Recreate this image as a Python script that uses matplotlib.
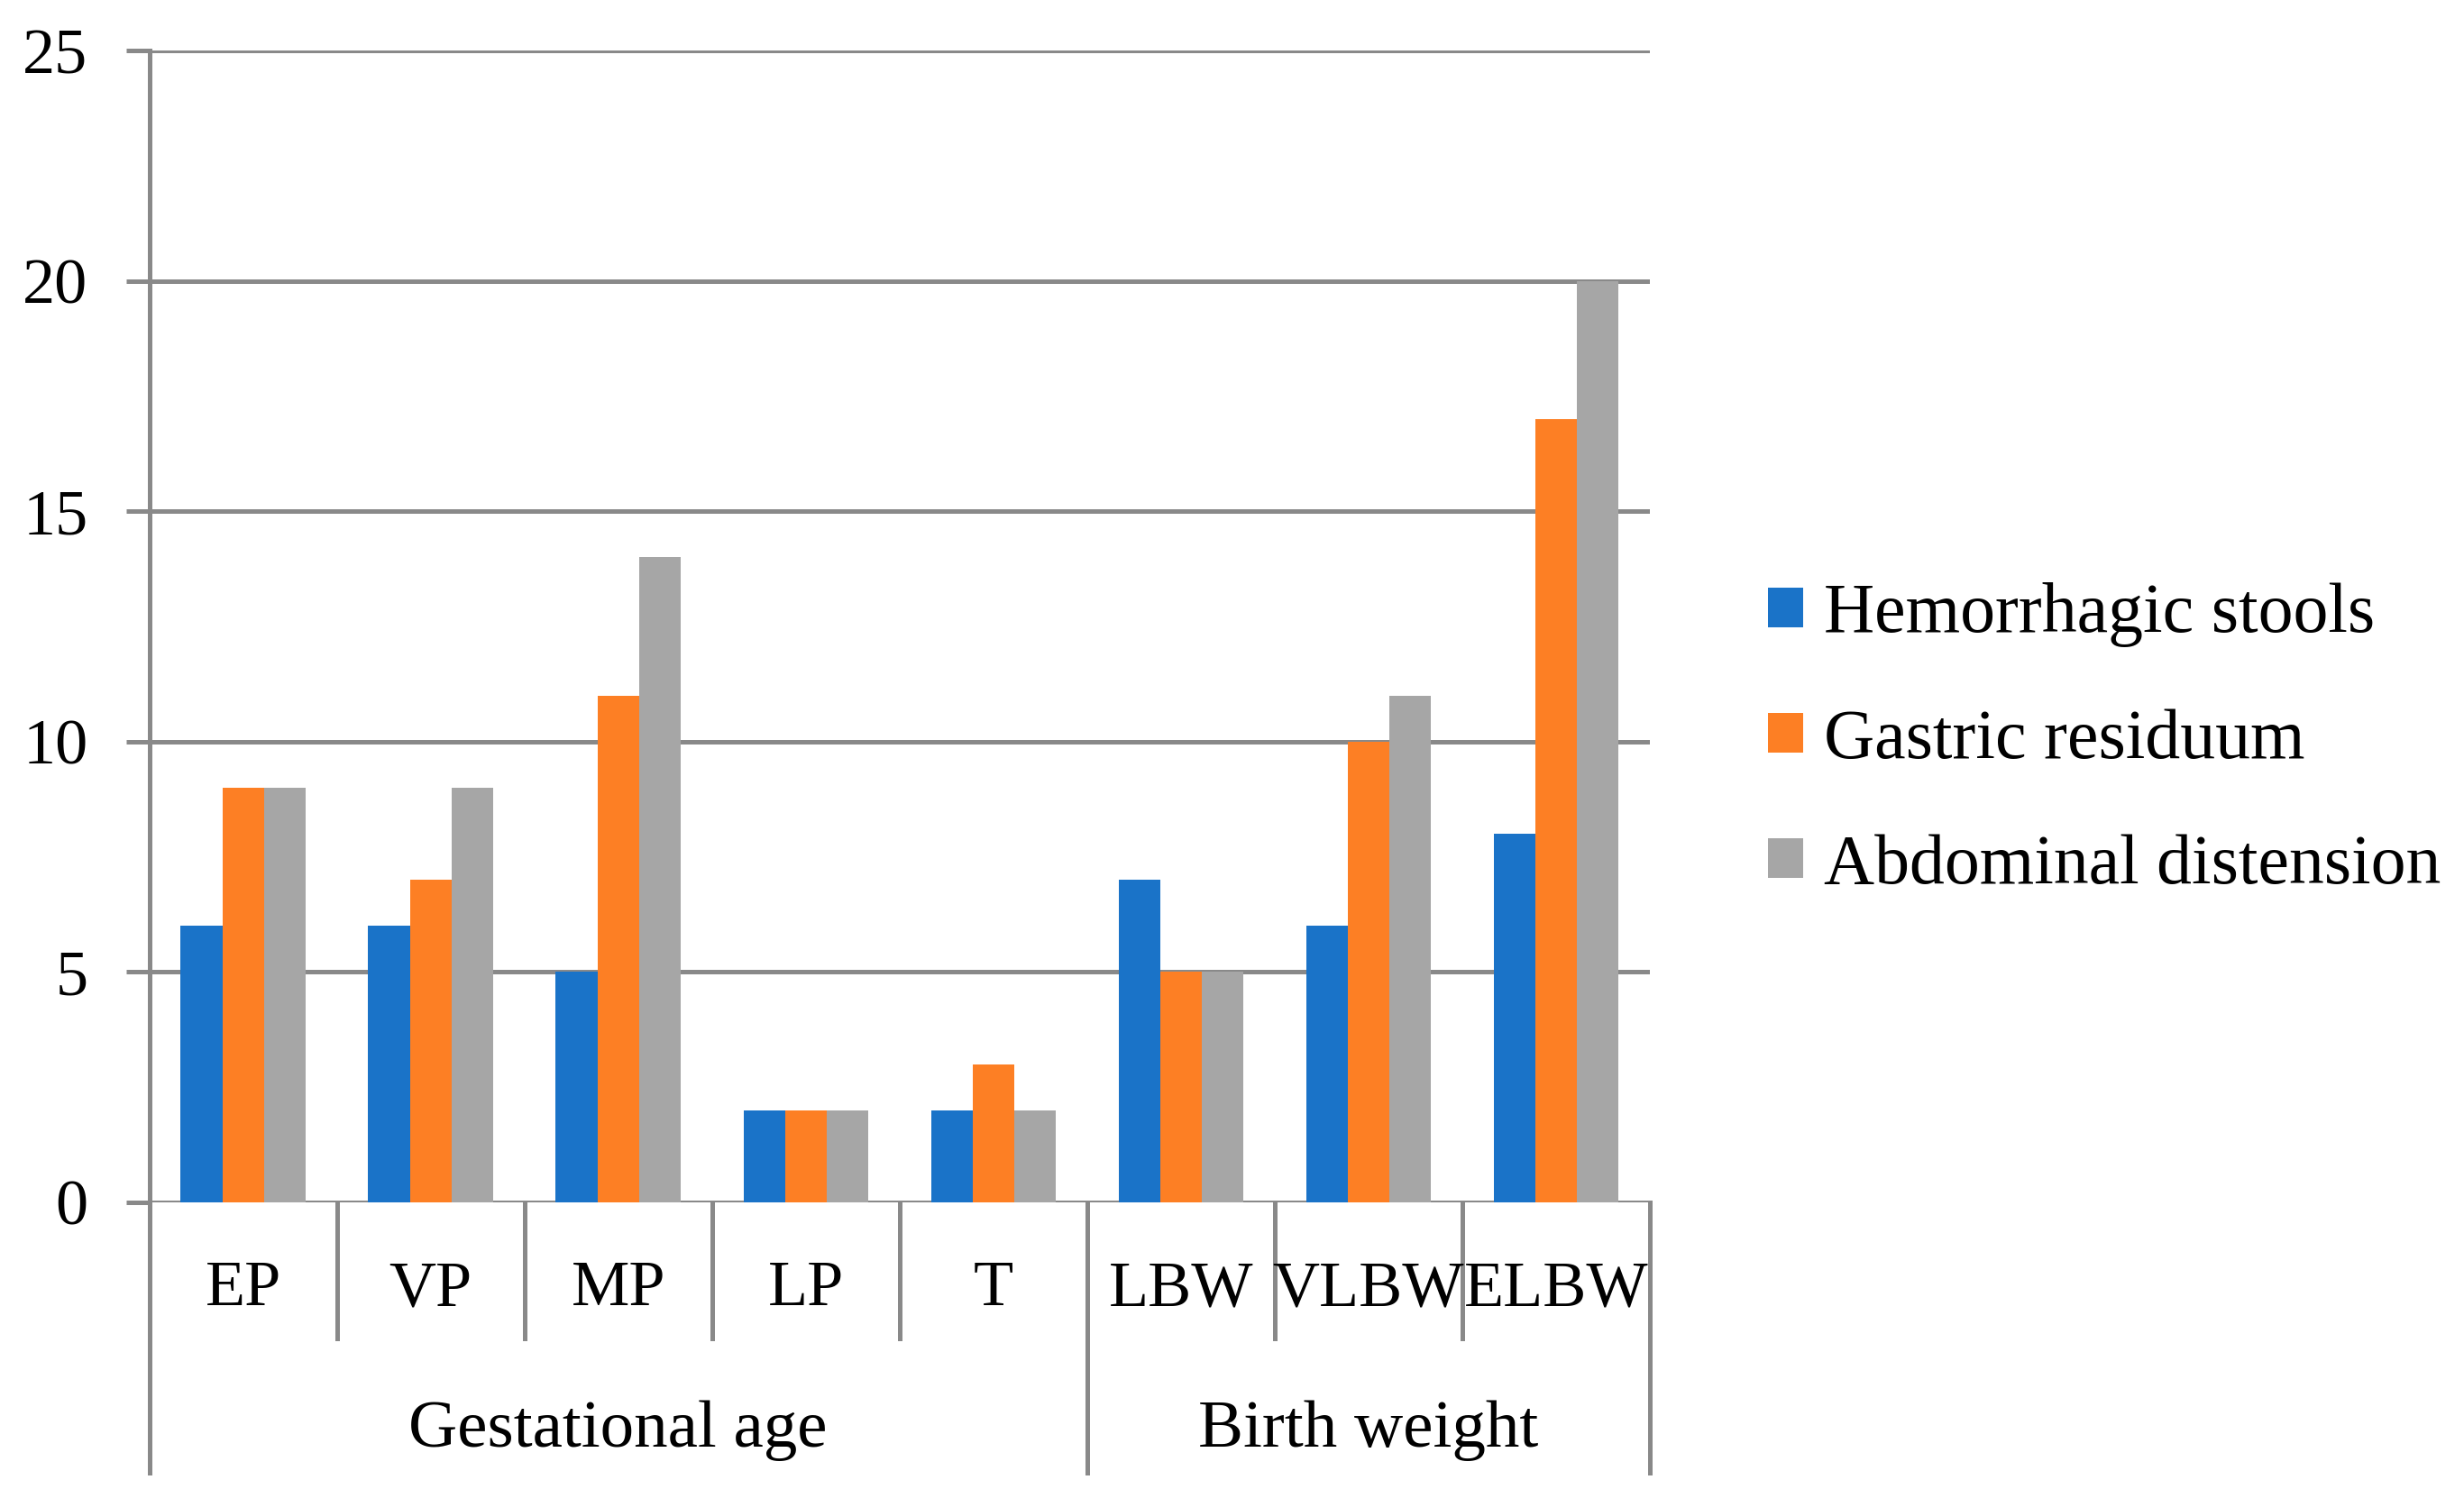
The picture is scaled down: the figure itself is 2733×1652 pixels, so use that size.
import numpy as np
import matplotlib
matplotlib.use("Agg")
import matplotlib.pyplot as plt
import matplotlib.transforms as mtransforms

# 資料
categories = ["EP", "VP", "MP", "LP", "T", "LBW", "VLBW", "ELBW"]
groups = ["Gestational age", "Birth weight"]
group_sizes = [5, 3]
series_names = ["Hemorrhagic stools", "Gastric residuum", "Abdominal distension"]
hemorrhagic = [6, 6, 5, 2, 2, 7, 6, 8]
gastric = [9, 7, 11, 2, 3, 5, 10, 17]
abdominal = [9, 9, 14, 2, 2, 5, 11, 20]
yticks = [0, 5, 10, 15, 20, 25]

colors = ["#1a73c8", "#fd7f24", "#a6a6a6"]
line_col = "#898989"
plt.rcParams["font.family"] = ["Liberation Serif", "DejaVu Serif"]

fig = plt.figure(figsize=(27.33, 16.52), dpi=100)
ax = fig.add_axes([0.0606, 0.1926, 0.609, 0.7734])

x = np.arange(len(categories))
w = 0.222
for i, vals in enumerate([hemorrhagic, gastric, abdominal]):
    ax.bar(x + (i - 1) * w, vals, width=w, color=colors[i], label=series_names[i], zorder=3)

ax.set_xlim(-0.5, len(categories) - 0.5)
ax.set_ylim(0, 25)
ax.set_yticks(yticks)
ax.set_xticks([])
for s in ["top", "right", "bottom"]:
    ax.spines[s].set_visible(False)
ax.spines["left"].set_color(line_col)
ax.spines["left"].set_linewidth(3.6)
ax.tick_params(axis="y", length=19, width=3.6, color=line_col, labelsize=52, pad=30)
ax.yaxis.grid(True, color=line_col, linewidth=3.6, zorder=0)
ax.set_axisbelow(True)

# 下方分類軸
trans = mtransforms.blended_transform_factory(ax.transData, ax.transAxes)
for b in np.arange(-0.5, len(categories), 1.0):
    ax.plot([b, b], [0, -0.118], color=line_col, lw=3.6, transform=trans, clip_on=False)
edges = np.concatenate([[0], np.cumsum(group_sizes)]) - 0.5
for b in edges:
    ax.plot([b, b], [0, -0.235], color=line_col, lw=3.6, transform=trans, clip_on=False)
for xi, c in zip(x, categories):
    ax.text(xi, -0.076, c, transform=trans, ha="center", va="center", fontsize=52)
for g, a, b in zip(groups, edges[:-1], edges[1:]):
    ax.text((a + b) / 2, -0.198, g, transform=trans, ha="center", va="center", fontsize=54)

ax.legend(loc="center left", bbox_to_anchor=(1.0786, 0.401), frameon=False, fontsize=56,
          borderaxespad=0, borderpad=0,
          handlelength=0.5, handleheight=0.5, handletextpad=0.3, labelspacing=0.87)

fig.savefig("out.png", dpi=100)
